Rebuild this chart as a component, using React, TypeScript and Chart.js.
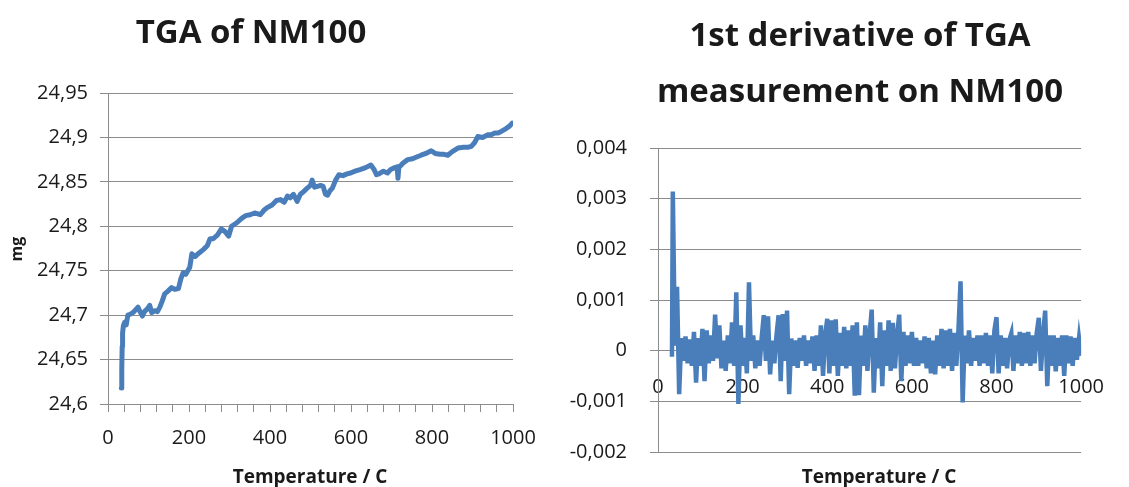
import React, { useEffect, useRef } from 'react';
import { Chart, registerables } from 'chart.js';

Chart.register(...registerables);

// ---------- DATA ----------
// TGA curve: temperature (°C) and sample mass (mg)
const tgaTemps = [
  33, 34, 35, 36, 38, 41, 45, 49, 55, 62, 68, 74, 79, 85, 90, 97, 103, 108, 116, 122,
  128, 134, 140, 148, 157, 165, 174, 180, 186, 192, 202, 207, 215, 225, 236, 245, 252, 260, 270, 280,
  289, 298, 305, 318, 330, 340, 351, 362, 376, 385, 393, 405, 416, 426, 435, 443, 450, 458, 467, 475,
  483, 492, 500, 504, 510, 517, 525, 531, 537, 542, 548, 554, 562, 570, 580, 590, 599, 610, 624, 636,
  649, 657, 663, 669, 680, 690, 698, 708, 714, 716, 718, 728, 740, 752, 762, 773, 785, 798, 808, 820,
  830, 839, 850, 864, 878, 890, 897, 905, 913, 925, 938, 946, 955, 963, 972, 983, 992, 998,
];
const tgaMass = [
  24.618, 24.64, 24.665, 24.68, 24.688, 24.692, 24.689, 24.7, 24.701, 24.703, 24.706, 24.709, 24.704, 24.699, 24.704, 24.707, 24.711, 24.703, 24.705, 24.704,
  24.709, 24.716, 24.724, 24.727, 24.731, 24.729, 24.73, 24.741, 24.748, 24.746, 24.754, 24.769, 24.766, 24.77, 24.774, 24.778, 24.786, 24.786, 24.79, 24.797,
  24.794, 24.789, 24.8, 24.804, 24.809, 24.812, 24.813, 24.815, 24.813, 24.818, 24.821, 24.824, 24.829, 24.83, 24.827, 24.834, 24.832, 24.836, 24.828, 24.836,
  24.839, 24.843, 24.846, 24.852, 24.844, 24.845, 24.846, 24.845, 24.836, 24.835, 24.84, 24.843, 24.852, 24.858, 24.857, 24.859, 24.86, 24.862, 24.864, 24.866,
  24.869, 24.864, 24.858, 24.859, 24.862, 24.86, 24.864, 24.866, 24.867, 24.854, 24.866, 24.871, 24.875, 24.876, 24.878, 24.88, 24.882, 24.885, 24.882, 24.881,
  24.881, 24.88, 24.884, 24.888, 24.889, 24.889, 24.89, 24.894, 24.901, 24.9, 24.903, 24.903, 24.905, 24.905, 24.907, 24.91, 24.913, 24.916,
];

// First derivative: temperature (°C) and value in units of 0.001
const derivTemps = [
  33, 35, 40, 45, 50, 55, 60, 65, 70, 75, 80,
  85, 90, 95, 100, 105, 110, 115, 120, 125, 130,
  135, 140, 145, 150, 155, 160, 165, 170, 175, 180,
  185, 190, 195, 200, 205, 210, 215, 220, 225, 230,
  235, 240, 245, 250, 255, 260, 265, 270, 275, 280,
  285, 290, 295, 300, 305, 310, 315, 320, 325, 330,
  335, 340, 345, 350, 355, 360, 365, 370, 375, 380,
  385, 390, 395, 400, 405, 410, 415, 420, 425, 430,
  435, 440, 445, 450, 455, 460, 465, 470, 475, 480,
  485, 490, 495, 500, 505, 510, 515, 520, 525, 530,
  535, 540, 545, 550, 555, 560, 565, 570, 575, 580,
  585, 590, 595, 600, 605, 610, 615, 620, 625, 630,
  635, 640, 645, 650, 655, 660, 665, 670, 675, 680,
  685, 690, 695, 700, 705, 710, 715, 720, 725, 730,
  735, 740, 745, 750, 755, 760, 765, 770, 775, 780,
  785, 790, 795, 800, 805, 810, 815, 820, 825, 830,
  835, 840, 845, 850, 855, 860, 865, 870, 875, 880,
  885, 890, 895, 900, 905, 910, 915, 920, 925, 930,
  935, 940, 945, 950, 955, 960, 965, 970, 975, 980,
  985, 990, 995, 1000,
];
const derivMilli = [
  -0.12, 3.14, 0.1, 1.26, -0.86, 0.25, -0.2, 0.28, -0.25, 0.22, -0.3,
  0.37, -0.63, 0.25, -0.3, 0.43, -0.6, 0.4, -0.25, 0.3, -0.2,
  0.71, -0.15, 0.5, -0.35, 0.2, -0.4, 0.3, -0.25, 0.56, -0.3,
  1.15, -1.05, 0.5, -0.3, 0.25, -0.45, 1.35, -0.2, 0.3, -0.35,
  0.2, -0.3, 0.25, 0.7, -0.2, 0.68, -0.47, 0.2, -0.25, 0.3,
  0.7, -0.6, 0.72, -0.2, 0.79, -0.86, 0.24, -0.3, 0.2, -0.34,
  0.25, -0.2, 0.3, -0.3, 0.2, -0.25, 0.28, -0.4, 0.3, -0.3,
  0.5, -0.5, 0.3, 0.63, -0.45, 0.6, -0.3, 0.62, -0.5, 0.35,
  -0.3, 0.47, -0.35, 0.4, -0.3, 0.5, -0.89, 0.56, -0.88, 0.3,
  -0.3, 0.5, -0.4, 0.3, 0.81, -0.83, 0.25, -0.35, 0.56, -0.7,
  0.4, -0.3, 0.6, -0.4, 0.55, -0.35, 0.3, 0.71, -0.6, 0.37,
  -0.3, 0.3, -0.25, 0.37, -0.3, 0.25, -0.3, 0.2, -0.25, 0.28,
  -0.35, 0.25, -0.45, 0.2, -0.47, 0.3, -0.3, 0.43, -0.35, 0.4,
  -0.3, 0.43, -0.4, 0.35, -0.3, 0.4, 1.37, -1.02, 0.3, -0.25,
  0.4, -0.3, 0.25, -0.2, 0.3, -0.3, 0.3, -0.25, 0.35, -0.3,
  0.3, -0.45, 0.4, 0.66, -0.45, 0.3, -0.3, 0.25, -0.35, 0.2,
  0.34, -0.4, 0.3, -0.25, 0.37, -0.3, 0.35, -0.25, 0.37, -0.3,
  0.3, -0.25, 0.35, 0.65, -0.4, 0.3, 0.79, -0.7, 0.3, -0.3,
  0.3, -0.41, 0.25, -0.3, 0.3, -0.5, 0.3, -0.25, 0.28, -0.3,
  0.25, -0.18, 0.24, -0.1,
];

// Axis ranges / tick steps
const tempMin = 0;
const tempMax = 1000;
const tempMajorStep = 200;
const tempMinorStep = 40;
const tgaMin = 24.6;
const tgaMax = 24.95;
const tgaStep = 0.05;
const derivMin = -0.002;
const derivMax = 0.004;
const derivStep = 0.001;

const leftTitle = 'TGA of NM100';
const rightTitle = ['1st derivative of TGA', 'measurement on NM100'];
const xAxisTitle = 'Temperature / C';
const leftYAxisTitle = 'mg';

// ---------- STYLE ----------
const BLUE = '#4A7EBB';
const GRID = '#8C8C8C';
const TEXT = '#1a1a1a';
const FONT = 'Open Sans';
const tickFont = { family: FONT, size: 20 };

const fmtComma = (v: number) => {
  const r = Math.round(v * 1e6) / 1e6;
  if (r === 0) return '0';
  return String(r).replace('.', ',');
};

const freeTextPlugin = {
  id: 'freeText',
  afterDraw(chart: any, _args: any, opts: any) {
    const ctx = chart.ctx;
    for (const t of (opts && opts.items) || []) {
      ctx.save();
      ctx.font = t.font;
      ctx.fillStyle = TEXT;
      ctx.textAlign = 'center';
      ctx.textBaseline = 'middle';
      ctx.translate(t.x, t.y);
      if (t.rotate) ctx.rotate(t.rotate);
      ctx.fillText(t.text, 0, 0);
      ctx.restore();
    }
  },
};

const TITLE_FONT = `bold 33px "${FONT}"`;
const AXIS_TITLE_FONT = `bold 19px "${FONT}"`;

export default function App() {
  const leftRef = useRef<HTMLCanvasElement>(null);
  const rightRef = useRef<HTMLCanvasElement>(null);

  useEffect(() => {
    const left = new Chart(leftRef.current as HTMLCanvasElement, {
      type: 'line',
      data: {
        datasets: [
          {
            data: tgaTemps.map((t, i) => ({ x: t, y: tgaMass[i] })),
            borderColor: BLUE,
            borderWidth: 5,
            pointRadius: 0,
            tension: 0,
            borderJoinStyle: 'round',
            borderCapStyle: 'round',
          },
        ],
      },
      options: {
        animation: false,
        responsive: false,
        maintainAspectRatio: false,
        layout: { padding: { left: 0, top: 93, right: 47, bottom: 43 } },
        plugins: {
          legend: { display: false },
          tooltip: { enabled: false },
          freeText: {
            items: [
              { text: leftTitle, font: TITLE_FONT, x: 251, y: 34 },
              { text: leftYAxisTitle, font: `bold 16px "${FONT}"`, x: 17, y: 249, rotate: -Math.PI / 2 },
              { text: xAxisTitle, font: AXIS_TITLE_FONT, x: 310, y: 478 },
            ],
          },
        } as any,
        scales: {
          x: {
            type: 'linear',
            min: tempMin,
            max: tempMax,
            ticks: {
              stepSize: tempMinorStep,
              autoSkip: false,
              maxRotation: 0,
              font: tickFont,
              color: TEXT,
              padding: 14,
              callback: (v: any) => (Math.round(v) % tempMajorStep === 0 ? String(Math.round(v)) : ''),
            },
            grid: { drawOnChartArea: false, drawTicks: true, tickLength: 8, color: GRID },
            border: { color: GRID },
            afterFit: (s: any) => {
              s.height = 40;
            },
          },
          y: {
            type: 'linear',
            min: tgaMin,
            max: tgaMax,
            ticks: { stepSize: tgaStep, font: tickFont, color: TEXT, padding: 12, callback: (v: any) => fmtComma(v) },
            grid: { color: GRID, tickLength: 8 },
            border: { color: GRID },
            afterFit: (s: any) => {
              s.width = 108;
            },
          },
        },
      },
      plugins: [freeTextPlugin as any],
    });

    const right = new Chart(rightRef.current as HTMLCanvasElement, {
      type: 'line',
      data: {
        datasets: [
          {
            data: derivTemps.map((t, i) => ({ x: t, y: derivMilli[i] / 1000 })),
            borderColor: BLUE,
            borderWidth: 4.5,
            pointRadius: 0,
            tension: 0,
          },
        ],
      },
      options: {
        animation: false,
        responsive: false,
        maintainAspectRatio: false,
        layout: { padding: { left: 0, top: 148, right: 28, bottom: 31 } },
        plugins: {
          legend: { display: false },
          tooltip: { enabled: false },
          freeText: {
            items: [
              { text: rightTitle[0], font: TITLE_FONT, x: 300, y: 37 },
              { text: rightTitle[1], font: TITLE_FONT, x: 300, y: 93 },
              { text: xAxisTitle, font: AXIS_TITLE_FONT, x: 319, y: 478 },
            ],
          },
        } as any,
        scales: {
          x: {
            type: 'linear',
            position: { y: 0 } as any,
            min: tempMin,
            max: tempMax,
            ticks: {
              stepSize: tempMajorStep,
              autoSkip: false,
              maxRotation: 0,
              font: tickFont,
              color: TEXT,
              padding: 25,
              callback: (v: any) => String(Math.round(v)),
            },
            grid: { drawOnChartArea: false, drawTicks: false },
            border: { display: false },
          },
          y: {
            type: 'linear',
            min: derivMin,
            max: derivMax,
            ticks: { stepSize: derivStep, font: tickFont, color: TEXT, padding: 23, callback: (v: any) => fmtComma(v) },
            grid: { color: GRID, tickLength: 8 },
            border: { color: GRID },
            afterFit: (s: any) => {
              s.width = 98;
            },
          },
        },
      },
      plugins: [freeTextPlugin as any],
    });

    return () => {
      left.destroy();
      right.destroy();
    };
  }, []);

  return (
    <div style={{ position: 'absolute', left: 0, top: 0, width: 1129, height: 487, background: '#fff' }}>
      <canvas ref={leftRef} width={560} height={487} style={{ position: 'absolute', left: 0, top: 0, width: 560, height: 487 }} />
      <canvas ref={rightRef} width={569} height={487} style={{ position: 'absolute', left: 560, top: 0, width: 569, height: 487 }} />
    </div>
  );
}
